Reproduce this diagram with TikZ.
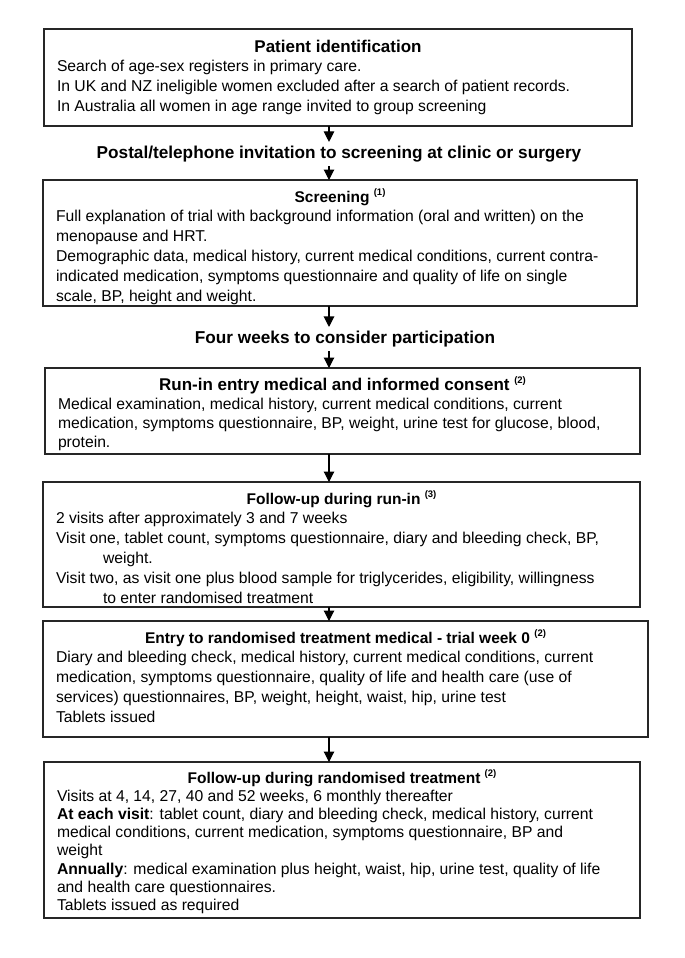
\documentclass[tikz,border=0pt]{standalone}
\usepackage{fontspec}
\setmainfont{Liberation Sans}
\usetikzlibrary{arrows.meta,calc}
\newcommand{\fnmark}[1]{\raisebox{6.5bp}{\fontsize{9.5bp}{9.5bp}\selectfont\bfseries(#1)}}
\newcommand{\boxtitle}[3][22bp]{{\centering\fontsize{#2}{19.8bp}\selectfont\bfseries\rule{0pt}{#1}#3\par}}
\newcommand{\boxbody}[4][19.8bp]{\parbox[t][#2][t]{#3}{\fontsize{15.7bp}{#1}\selectfont\raggedright #4}}
\tikzset{
  flowbox/.style={draw=black!85, line width=1.2bp, inner xsep=13bp, inner ysep=0pt, outer sep=0pt, anchor=north west, fill=white},
  midtext/.style={font=\fontsize{17.2bp}{20bp}\selectfont\bfseries, inner xsep=0pt, inner ysep=4bp, outer sep=0pt},
  flowarrow/.style={draw=black, line width=1.1bp, -{Triangle[width=10.5bp,length=10.5bp]}}
}
\begin{document}
\begin{tikzpicture}[x=1bp,y=-1bp]
\useasboundingbox[fill=white] (0,0) rectangle (685,958);
\coordinate (axis) at (329,0);

\node[flowbox] (b1) at (44,29) {\boxbody{97bp}{562bp}{%
\boxtitle[23bp]{17bp}{Patient identification}
Search of age-sex registers in primary care.\\
In UK and NZ ineligible women excluded after a search of patient records.\\
In Australia all women in age range invited to group screening}};

\node[midtext] (t1) at (339,154) {Postal/telephone invitation to screening at clinic or surgery};

\node[flowbox] (b2) at (43,180) {\boxbody{126bp}{568bp}{%
\boxtitle{15.5bp}{Screening \fnmark{1}}
Full explanation of trial with background information (oral and written) on the\\
menopause and HRT.\\
Demographic data, medical history, current medical conditions, current contra-\\
indicated medication, symptoms questionnaire and quality of life on single\\
scale, BP, height and weight.}};

\node[midtext] (t2) at (345,339) {Four weeks to consider participation};

\node[flowbox] (b3) at (45,368) {\boxbody[19.2bp]{86bp}{569bp}{%
\boxtitle{17bp}{Run-in entry medical and informed consent \fnmark{2}}
Medical examination, medical history, current medical conditions, current\\
medication, symptoms questionnaire, BP, weight, urine test for glucose, blood,\\
protein.}};

\node[flowbox] (b4) at (43,482) {\boxbody{125bp}{571bp}{%
\boxtitle{15.5bp}{Follow-up during run-in \fnmark{3}}
2 visits after approximately 3 and 7 weeks\\
Visit one, tablet count, symptoms questionnaire, diary and bleeding check, BP,\\
\hspace*{47bp}weight.\\
Visit two, as visit one plus blood sample for triglycerides, eligibility, willingness\\
\hspace*{47bp}to enter randomised treatment}};

\node[flowbox] (b5) at (43,621) {\boxbody{116bp}{579bp}{%
\boxtitle{15.5bp}{Entry to randomised treatment medical - trial week 0 \fnmark{2}}
Diary and bleeding check, medical history, current medical conditions, current\\
medication, symptoms questionnaire, quality of life and health care (use of\\
services) questionnaires, BP, weight, height, waist, hip, urine test\\
Tablets issued}};

\node[flowbox] (b6) at (44,762) {\boxbody[18.2bp]{156bp}{570bp}{%
\boxtitle[21bp]{15.5bp}{Follow-up during randomised treatment \fnmark{2}}
Visits at 4, 14, 27, 40 and 52 weeks, 6 monthly thereafter\\
\textbf{At each visit}: tablet count, diary and bleeding check, medical history, current\\
medical conditions, current medication, symptoms questionnaire, BP and\\
weight\\
\textbf{Annually}: medical examination plus height, waist, hip, urine test, quality of life\\
and health care questionnaires.\\
Tablets issued as required}};

\draw[flowarrow] (b1.south -| axis) -- (t1.north -| axis);
\draw[flowarrow] (t1.south -| axis) -- (b2.north -| axis);
\draw[flowarrow] (b2.south -| axis) -- (t2.north -| axis);
\draw[flowarrow] (t2.south -| axis) -- (b3.north -| axis);
\draw[flowarrow] (b3.south -| axis) -- (b4.north -| axis);
\draw[flowarrow] (b4.south -| axis) -- (b5.north -| axis);
\draw[flowarrow] (b5.south -| axis) -- (b6.north -| axis);
\end{tikzpicture}
\end{document}
